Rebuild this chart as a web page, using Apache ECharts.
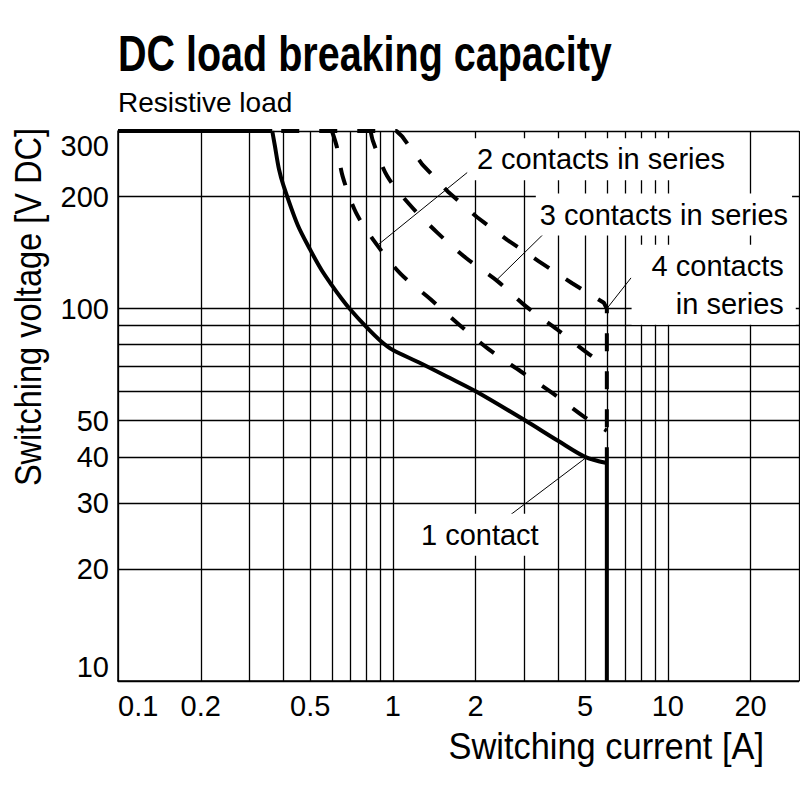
<!DOCTYPE html>
<html>
<head>
<meta charset="utf-8">
<script src="https://cdn.jsdelivr.net/npm/echarts@6/dist/echarts.min.js"></script>
<style>
  html, body { margin: 0; padding: 0; background: #fff; }
  #chart { width: 800px; height: 800px; }
</style>
</head>
<body>
<div id="chart"></div>
<script>
// axis ticks / grid values
const xGrid = [0.1, 0.2, 0.3, 0.4, 0.5, 0.6, 0.7, 0.8, 0.9, 1, 2, 3, 4, 5, 6, 7, 8, 9, 10, 20, 30];
const xTicks = [0.1, 0.2, 0.5, 1, 2, 5, 10, 20];
const yGrid = [10, 20, 30, 40, 50, 60, 70, 80, 90, 100, 200, 300];
const yTicks = [10, 20, 30, 40, 50, 100, 200, 300];

// curves [current A, voltage V]
const oneContact = [[0.1, 300], [0.364, 300], [0.372, 274], [0.385, 237], [0.4, 214], [0.45, 168],
  [0.5, 144], [0.55, 127], [0.6, 115.5], [0.65, 106.5], [0.7, 99.5], [0.8, 89.3], [0.9, 82], [1, 77.4],
  [1.24, 71.8], [1.6, 65.3], [2, 60], [3, 50.3], [4, 44.1], [5, 40], [6, 38.5], [6, 10]];
const twoContacts = [[0.6, 300], [0.626, 271], [0.656, 227], [0.734, 181], [0.871, 149], [1.067, 124],
  [1.371, 106], [1.738, 90.7], [2.234, 77.7], [2.913, 67.9], [3.796, 59.4], [4.95, 51.3], [6, 47]];
const threeContacts = [[0.83, 300], [0.846, 282], [0.953, 227], [1.16, 189], [1.45, 160], [1.84, 137],
  [2.4, 118.6], [3.04, 101.6], [3.96, 87.9], [5.09, 76.1], [6, 70]];
const fourContacts = [[0.364, 300], [1.03, 300], [1.081, 290], [1.278, 244], [1.598, 205], [2.025, 176],
  [2.604, 153], [3.395, 134], [4.487, 117], [5.85, 103.7], [6, 100], [6, 38.5]];

// leader lines and notes
const leaders = [
  [[1.863, 232], [0.889, 149]],
  [[3.59, 160.6], [2.395, 119.8]],
  [[7.35, 121], [6, 100]],
  [[2.533, 27.1], [5.02, 39.7]]
];
const notes = [
  [1.954, 252, '2 contacts in series', 'right'],
  [3.31, 179, '3 contacts in series', 'right'],
  [29.2, 116, '4 contacts\nin series', 'left'],
  [1.223, 24.7, '1 contact', 'right']
];

const FONT = "'Liberation Sans', Arial, sans-serif";
const solid = { color: '#000', width: 4 };
const dashed = { color: '#000', width: 4, type: [18, 20] };

let chart = echarts.init(document.getElementById('chart'), null, { renderer: 'svg' });

let n = oneContact.length;
let series = [
  // 1 contact: flat top, curved middle, vertical end
  { name: '1 contact', type: 'line', data: oneContact.slice(0, 2), symbol: 'none', lineStyle: solid, z: 5 },
  { name: '1 contact', type: 'line', data: oneContact.slice(1, n - 1), symbol: 'none', lineStyle: solid,
    smooth: 0.3, z: 5 },
  { name: '1 contact', type: 'line', data: oneContact.slice(n - 2), symbol: 'none', lineStyle: solid, z: 5 },
  { name: '2 contacts', type: 'line', data: twoContacts, symbol: 'none', lineStyle: dashed,
    smooth: 0.3, z: 4 },
  { name: '3 contacts', type: 'line', data: threeContacts, symbol: 'none', lineStyle: dashed,
    smooth: 0.3, z: 4 },
  { name: '4 contacts', type: 'line', data: fourContacts, symbol: 'none',
    lineStyle: Object.assign({ dashOffset: 29 }, dashed), z: 4 }
];
leaders.forEach(function (l) {
  series.push({
    type: 'line', data: l, symbol: 'none', silent: true,
    lineStyle: { color: '#000', width: 1 }, z: 6
  });
});
series.push({
  type: 'scatter', symbolSize: 0, z: 7, silent: true,
  itemStyle: { opacity: 1 },
  data: notes.map(function (d) {
    let right = d[3] === 'left';
    return {
      value: [d[0], d[1]],
      label: {
        show: true, position: d[3], distance: 0, formatter: d[2],
        align: right ? 'right' : 'left',
        fontFamily: FONT, fontSize: 29, color: '#000', opacity: 1, lineHeight: 38,
        backgroundColor: '#fff', padding: right ? [2, 12, 2, 20] : [2, 4, 2, 4]
      }
    };
  })
});

let option = {
  animation: false,
  backgroundColor: '#fff',
  grid: { left: 118, right: 1, top: 131, bottom: 119 },
  xAxis: {
    type: 'log', logBase: 10, min: 0.1, max: 30,
    axisLine: { show: true, lineStyle: { color: '#000', width: 1.5 } },
    axisTick: { show: false, customValues: xGrid },
    splitLine: { show: true, lineStyle: { color: '#000', width: 1.3 } },
    axisLabel: {
      customValues: xTicks, margin: 10, fontFamily: FONT, fontSize: 29, color: '#000',
      alignMinLabel: 'left', formatter: function (v) { return String(v); }
    }
  },
  yAxis: {
    type: 'log', logBase: 10, min: 10, max: 300,
    axisLine: { show: true, lineStyle: { color: '#000', width: 1.5 } },
    axisTick: { show: false, customValues: yGrid },
    splitLine: { show: true, lineStyle: { color: '#000', width: 1.3 } },
    axisLabel: {
      customValues: yTicks, margin: 9, fontFamily: FONT, fontSize: 29, color: '#000',
      verticalAlignMinLabel: 'bottom', verticalAlignMaxLabel: 'top',
      formatter: function (v) { return String(v); }
    }
  },
  graphic: [
    {
      type: 'text', x: 118, y: 54, scaleX: 0.806,
      style: { text: 'DC load breaking capacity', fontFamily: FONT, fontSize: 49, fontWeight: 'bold',
        fill: '#000', align: 'left', verticalAlign: 'middle' }
    },
    {
      type: 'text', x: 118, y: 102,
      style: { text: 'Resistive load', fontFamily: FONT, fontSize: 28, fill: '#000',
        align: 'left', verticalAlign: 'middle' }
    },
    {
      type: 'text', x: 28, y: 307, rotation: Math.PI / 2, scaleX: 0.88,
      style: { text: 'Switching voltage [V DC]', fontFamily: FONT, fontSize: 37, fill: '#000',
        align: 'center', verticalAlign: 'middle' }
    },
    {
      type: 'text', x: 764, y: 747, scaleX: 0.93,
      style: { text: 'Switching current [A]', fontFamily: FONT, fontSize: 37, fill: '#000',
        align: 'right', verticalAlign: 'middle' }
    }
  ],
  series: series
};
chart.setOption(option);
</script>
</body>
</html>
